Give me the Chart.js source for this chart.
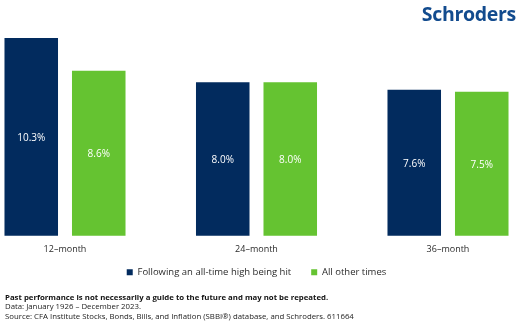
<!DOCTYPE html>
<html>
<head>
<meta charset="utf-8">
<script src="https://cdn.jsdelivr.net/npm/chart.js@4/dist/chart.umd.min.js"></script>
<style>
  html, body { margin: 0; padding: 0; background: #fff; }
  #wrap { position: relative; width: 523px; height: 324px; overflow: hidden; font-family: "Open Sans", "Noto Sans", sans-serif; }
  #chart { position: absolute; left: 0; top: 0; }
  #logo { position: absolute; right: 7px; top: 0px; font-size: 19.5px; font-weight: 700; color: #124b8e; letter-spacing: -0.3px; }
  #notes { position: absolute; left: 5px; top: 293px; font-size: 7.8px; line-height: 9.3px; color: #222; white-space: nowrap; }
  #notes b { font-weight: 700; color: #111; }
</style>
</head>
<body>
<div id="wrap">
  <canvas id="chart" width="523" height="324"></canvas>
  <div id="logo">Schroders</div>
  <div id="notes">
    <b>Past performance is not necessarily a guide to the future and may not be repeated.</b><br>
    Data: January 1926 – December 2023.<br>
    Source: CFA Institute Stocks, Bonds, Bills, and Inflation (SBBI®) database, and Schroders. 611664
  </div>
</div>
<script>
// Holding periods and average annualised returns (%)
const periods = ["12–month", "24–month", "36–month"];
const afterHigh = [10.3, 8.0, 7.6];
const otherTimes = [8.6, 8.0, 7.5];
const seriesNames = ["Following an all-time high being hit", "All other times"];

const NAVY = "#022b5e";
const GREEN = "#65c331";
const FONT = '"Open Sans", "Noto Sans", sans-serif';

// Writes each bar's value in the middle of the bar
const barValueLabels = {
  id: "barValueLabels",
  afterDatasetsDraw(chart) {
    const ctx = chart.ctx;
    ctx.save();
    ctx.font = "10px " + FONT;
    ctx.fillStyle = "#ffffff";
    ctx.textAlign = "center";
    ctx.textBaseline = "middle";
    chart.data.datasets.forEach((ds, i) => {
      chart.getDatasetMeta(i).data.forEach((bar, j) => {
        const p = bar.getProps(["x", "y", "base"], true);
        ctx.fillText(ds.data[j].toFixed(1) + "%", p.x, (p.y + p.base) / 2 + 1);
      });
    });
    ctx.restore();
  }
};

// Pulls the legend row a little closer to the category labels
const legendLift = {
  id: "legendLift",
  afterLayout(chart) {
    const lg = chart.legend;
    if (lg) { lg.top -= 15; lg.bottom -= 15; }
  }
};

new Chart(document.getElementById("chart"), {
  type: "bar",
  data: {
    labels: periods,
    datasets: [
      { label: seriesNames[0], data: afterHigh, backgroundColor: NAVY },
      { label: seriesNames[1], data: otherTimes, backgroundColor: GREEN }
    ]
  },
  options: {
    responsive: false,
    animation: false,
    events: [],
    layout: { padding: { top: 38, left: 65, right: 75, bottom: 22 } },
    datasets: { bar: { categoryPercentage: 0.705, barPercentage: 0.793, clip: false } },
    scales: {
      x: {
        offset: false,
        grid: { display: false, drawTicks: false },
        border: { display: false },
        ticks: {
          padding: 8,
          color: "#2a2a2a",
          font: { family: FONT, size: 9 }
        }
      },
      y: {
        display: false,
        min: 0,
        max: 10.3
      }
    },
    plugins: {
      tooltip: { enabled: false },
      legend: {
        position: "bottom",
        labels: {
          boxWidth: 6,
          boxHeight: 6,
          padding: 20,
          color: "#2a2a2a",
          font: { family: FONT, size: 9.5 }
        }
      }
    }
  },
  plugins: [barValueLabels, legendLift]
});
</script>
</body>
</html>
